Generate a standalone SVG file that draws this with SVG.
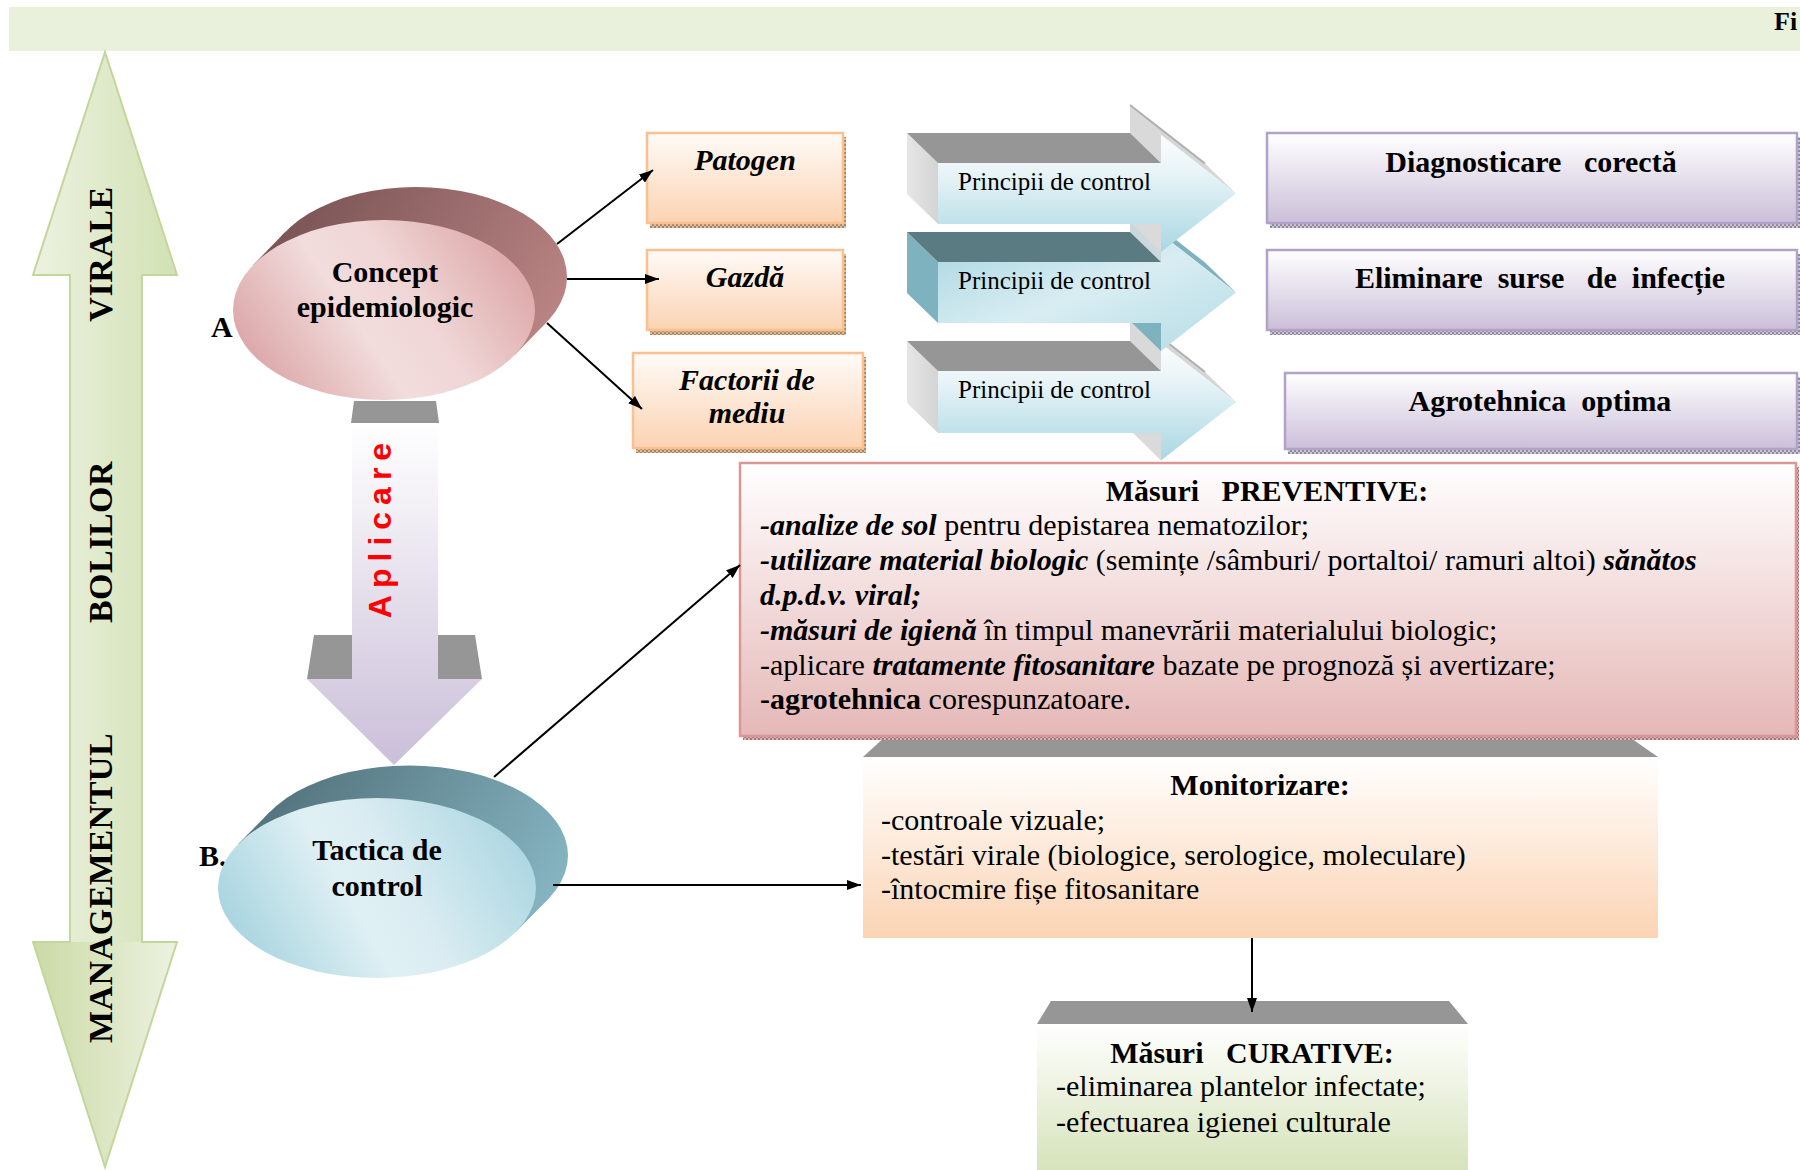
<svg xmlns="http://www.w3.org/2000/svg" width="1800" height="1170" viewBox="0 0 1800 1170">
<defs>
<style>
.serif{font-family:"Liberation Serif","Times New Roman",serif;fill:#000}
.b{font-weight:bold}
.bi{font-weight:bold;font-style:italic}
.f30{font-size:30px}
.pre{white-space:pre}
.conn{stroke:#000;stroke-width:2;fill:none;marker-end:url(#ah)}
.gray{fill:#969696}
.peach{fill:url(#gPeach);stroke:#fac090;stroke-width:2.5}
.purple{fill:url(#gPurple);stroke:#b3a2c7;stroke-width:2.5}
</style>
<marker id="ah" viewBox="0 0 14 10" refX="14" refY="5" markerWidth="14" markerHeight="10" markerUnits="userSpaceOnUse" orient="auto"><path d="M0,0L14,5L0,10z" fill="#000"/></marker>
<pattern id="hO" width="4" height="4" patternUnits="userSpaceOnUse"><rect width="4" height="4" fill="#dcbc9c"/><rect width="2" height="2" fill="#a98462"/><rect x="2" y="2" width="2" height="2" fill="#a98462"/></pattern>
<pattern id="hP" width="4" height="4" patternUnits="userSpaceOnUse"><rect width="4" height="4" fill="#cfc7da"/><rect width="2" height="2" fill="#8f8799"/><rect x="2" y="2" width="2" height="2" fill="#8f8799"/></pattern>
<pattern id="hR" width="4" height="4" patternUnits="userSpaceOnUse"><rect width="4" height="4" fill="#d9b3b3"/><rect width="2" height="2" fill="#9e7a7a"/><rect x="2" y="2" width="2" height="2" fill="#9e7a7a"/></pattern>
<linearGradient id="gBig1" x1="0" y1="0" x2="1" y2="0"><stop offset="0" stop-color="#ecf2e0"/><stop offset="1" stop-color="#d2e1b4"/></linearGradient>
<linearGradient id="gBig2" x1="0" y1="0" x2="1" y2="0"><stop offset="0" stop-color="#cbdaa6"/><stop offset="1" stop-color="#ecf2e0"/></linearGradient>
<linearGradient id="gPeach" x1="0" y1="0" x2="0" y2="1"><stop offset="0" stop-color="#fffbf8"/><stop offset="1" stop-color="#fbd3b2"/></linearGradient>
<linearGradient id="gPurple" x1="0" y1="0" x2="0" y2="1"><stop offset="0" stop-color="#ffffff"/><stop offset="1" stop-color="#cbbfd9"/></linearGradient>
<linearGradient id="gPink" x1="0" y1="0" x2="0" y2="1"><stop offset="0" stop-color="#ffffff"/><stop offset="1" stop-color="#e5b8b7"/></linearGradient>
<linearGradient id="gMon" x1="0" y1="0" x2="0" y2="1"><stop offset="0" stop-color="#ffffff"/><stop offset="1" stop-color="#fbd4b4"/></linearGradient>
<linearGradient id="gCur" x1="0" y1="0" x2="0" y2="1"><stop offset="0" stop-color="#ffffff"/><stop offset="1" stop-color="#d6e3bb"/></linearGradient>
<linearGradient id="gApl" gradientUnits="userSpaceOnUse" x1="0" y1="423" x2="0" y2="765"><stop offset="0" stop-color="#ffffff"/><stop offset="1" stop-color="#cbbfd9"/></linearGradient>
<linearGradient id="gABack" gradientUnits="userSpaceOnUse" x1="300" y1="190" x2="560" y2="360"><stop offset="0" stop-color="#7a5455"/><stop offset="1" stop-color="#c08888"/></linearGradient>
<linearGradient id="gAFront" gradientUnits="userSpaceOnUse" x1="510" y1="225" x2="260" y2="395"><stop offset="0" stop-color="#dba2a3"/><stop offset="0.4" stop-color="#f0d6d6"/><stop offset="0.6" stop-color="#f2dcdc"/><stop offset="1" stop-color="#d9a1a2"/></linearGradient>
<linearGradient id="gBBack" gradientUnits="userSpaceOnUse" x1="300" y1="770" x2="570" y2="940"><stop offset="0" stop-color="#557680"/><stop offset="1" stop-color="#8cbdca"/></linearGradient>
<linearGradient id="gBFront" gradientUnits="userSpaceOnUse" x1="520" y1="805" x2="240" y2="965"><stop offset="0" stop-color="#a7d4e0"/><stop offset="0.45" stop-color="#dbedf2"/><stop offset="0.6" stop-color="#dff0f4"/><stop offset="1" stop-color="#a4d2de"/></linearGradient>
<linearGradient id="gPr" x1="0" y1="0" x2="0" y2="1"><stop offset="0" stop-color="#fbfdfe"/><stop offset="0.3" stop-color="#eaf5f8"/><stop offset="1" stop-color="#a9d7e3"/></linearGradient>
<linearGradient id="gPr2" x1="0" y1="0" x2="1" y2="1"><stop offset="0" stop-color="#a9d6e2"/><stop offset="0.5" stop-color="#d8edf2"/><stop offset="1" stop-color="#b5dce6"/></linearGradient>
<linearGradient id="gSide" x1="0" y1="0" x2="1" y2="0"><stop offset="0" stop-color="#e6e6e6"/><stop offset="1" stop-color="#d4d4d4"/></linearGradient>
</defs>

<rect id="band" x="9" y="7" width="1791" height="44" fill="#e9f1dd"/>
<text class="serif b" x="1774" y="30" font-size="26">Fi</text>

<g id="management-arrow">
<polygon points="105,52 177,275 142,275 142,942 177,942 105,1167 33,942 70,942 70,275 33,275" fill="url(#gBig1)"/>
<polygon points="33,942 177,942 105,1167" fill="url(#gBig2)"/>
<polygon points="105,52 177,275 142,275 142,942 177,942 105,1167 33,942 70,942 70,275 33,275" fill="none" stroke="#c3d69b" stroke-width="2"/>
<text class="serif b" font-size="34" letter-spacing="0.5" text-anchor="middle" transform="translate(112,254) rotate(-90)">VIRALE</text>
<text class="serif b" font-size="34" letter-spacing="0.5" text-anchor="middle" transform="translate(112,542) rotate(-90)">BOLILOR</text>
<text class="serif b" font-size="34" letter-spacing="0.5" text-anchor="middle" transform="translate(112,888) rotate(-90)">MANAGEMENTUL</text>
</g>

<g id="aplicare-arrow">
<polygon class="gray" points="354,401 436,401 439,423 351,423"/>
<polygon class="gray" points="314,635 352,635 352,679 307,679"/>
<polygon class="gray" points="438,635 475,635 482,679 438,679"/>
<polygon points="352,423 438,423 438,679 482,679 394,765 307,679 352,679" fill="url(#gApl)"/>
<text font-family="'Liberation Sans',Arial,sans-serif" font-weight="bold" font-size="32" letter-spacing="7" fill="#ff0000" text-anchor="middle" transform="translate(391,527) rotate(-90)">Aplicare</text>
</g>

<g id="concept">
<text class="serif b f30" x="211" y="337">A</text>
<ellipse cx="416" cy="277" rx="151" ry="90" fill="url(#gABack)"/>
<polygon points="514.8,355 546.8,322 285.2,232 253.2,265" fill="url(#gABack)"/>
<ellipse cx="384" cy="310" rx="151" ry="90" fill="url(#gAFront)"/>
<text class="serif b f30" x="385" y="282" text-anchor="middle">Concept</text>
<text class="serif b f30" x="385" y="317" text-anchor="middle">epidemiologic</text>
</g>

<g id="tactica">
<text class="serif b f30" x="199" y="866">B.</text>
<ellipse cx="409" cy="855.5" rx="159" ry="90" fill="url(#gBBack)"/>
<polygon points="516,931.7 548,899.2 270,811.8 238,844.3" fill="url(#gBBack)"/>
<ellipse cx="377" cy="888" rx="159" ry="90" fill="url(#gBFront)"/>
<text class="serif b f30" x="377" y="860" text-anchor="middle">Tactica de</text>
<text class="serif b f30" x="377" y="896" text-anchor="middle">control</text>
</g>

<g id="patogen">
<rect x="650" y="137" width="196" height="91" fill="url(#hO)"/>
<rect class="peach" x="647" y="133" width="196" height="90"/>
<text class="serif bi f30" x="745" y="170" text-anchor="middle">Patogen</text>
</g>
<g id="gazda">
<rect x="650" y="254" width="196" height="81" fill="url(#hO)"/>
<rect class="peach" x="647" y="250" width="196" height="80"/>
<text class="serif bi f30" x="745" y="287" text-anchor="middle">Gazdă</text>
</g>
<g id="factorii">
<rect x="636" y="357" width="230" height="96" fill="url(#hO)"/>
<rect class="peach" x="633" y="353" width="230" height="95"/>
<text class="serif bi f30" x="747" y="390" text-anchor="middle">Factorii de</text>
<text class="serif bi f30" x="747" y="423" text-anchor="middle">mediu</text>
</g>

<g id="principii-3">
<polygon points="1130,313 1161,343.5 1161,371 1130,341" fill="#d9d9d9"/>
<polygon points="1130,403 1161,433 1161,460.5 1130,430" fill="#dadada"/>
<polygon points="907,341 938,371 938,433 907,403" fill="url(#gSide)"/>
<polygon points="907,341 1130,341 1161,371 938,371" fill="#969696"/>
<polygon points="1130,313 1205,372 1236,402 1161,343.5" fill="#d6d6d6"/>
<line x1="1130" y1="313" x2="1205" y2="372" stroke="#b0b0b0" stroke-width="2"/>
<polygon points="938,371 1161,371 1161,343.5 1236,402 1161,460.5 1161,433 938,433" fill="url(#gPr)"/>
<text class="serif" x="958" y="398" font-size="25">Principii de control</text>
</g>
<g id="principii-2">
<polygon points="1130,204 1161,234 1161,262 1130,232" fill="#c9d9dd"/>
<polygon points="1130,293 1161,323 1161,351 1130,321" fill="#7fb2bf"/>
<polygon points="907,232 938,262 938,323 907,293" fill="#7fb2bf"/>
<polygon points="907,232 1130,232 1161,262 938,262" fill="#5b7b83"/>
<polygon points="1130,204 1205,262.5 1236,292.5 1161,234" fill="#7fb2bf"/>
<polygon points="938,262 1161,262 1161,234 1236,292.5 1161,351 1161,323 938,323" fill="url(#gPr2)"/>
<text class="serif" x="958" y="289" font-size="25">Principii de control</text>
</g>
<g id="principii-1">
<polygon points="1130,105 1161,135 1161,163 1130,133" fill="#d9d9d9"/>
<polygon points="1130,194 1161,224 1161,252 1130,222" fill="#dadada"/>
<polygon points="907,133 938,163 938,224 907,194" fill="url(#gSide)"/>
<polygon points="907,133 1130,133 1161,163 938,163" fill="#969696"/>
<polygon points="1130,105 1205,163.5 1236,193.5 1161,135" fill="#d6d6d6"/>
<line x1="1130" y1="105" x2="1205" y2="163.5" stroke="#b0b0b0" stroke-width="2"/>
<polygon points="938,163 1161,163 1161,135 1236,193.5 1161,252 1161,224 938,224" fill="url(#gPr)"/>
<text class="serif" x="958" y="190" font-size="25">Principii de control</text>
</g>

<g id="diagnosticare">
<rect x="1270" y="137" width="530" height="91" fill="url(#hP)"/>
<rect class="purple" x="1267" y="133" width="530" height="90"/>
<text class="serif b f30 pre" x="1531" y="172" text-anchor="middle" xml:space="preserve">Diagnosticare   corectă</text>
</g>
<g id="eliminare">
<rect x="1270" y="254" width="530" height="81" fill="url(#hP)"/>
<rect class="purple" x="1267" y="250" width="530" height="80"/>
<text class="serif b f30 pre" x="1540" y="288" text-anchor="middle" xml:space="preserve">Eliminare  surse   de  infecție</text>
</g>
<g id="agrotehnica">
<rect x="1288" y="377" width="512" height="77" fill="url(#hP)"/>
<rect class="purple" x="1285" y="373" width="512" height="76"/>
<text class="serif b f30 pre" x="1540" y="411" text-anchor="middle" xml:space="preserve">Agrotehnica  optima</text>
</g>

<g id="monitorizare">
<polygon class="gray" points="888,734 1625,734 1658,757 863,757"/>
<rect x="863" y="757" width="795" height="181" fill="url(#gMon)"/>
<text class="serif b f30" x="1260" y="795" text-anchor="middle">Monitorizare:</text>
<text class="serif f30" x="881" y="830">-controale vizuale;</text>
<text class="serif f30" x="881" y="865">-testări virale (biologice, serologice, moleculare)</text>
<text class="serif f30" x="881" y="899">-întocmire fișe fitosanitare</text>
</g>

<g id="preventive">
<rect x="743" y="467" width="1056" height="273" fill="url(#hR)"/>
<rect x="740" y="463" width="1056" height="273" fill="url(#gPink)" stroke="#d99694" stroke-width="2.5"/>
<text class="serif b f30 pre" x="1267" y="501" text-anchor="middle" xml:space="preserve">Măsuri   PREVENTIVE:</text>
<text class="serif f30" x="760" y="535"><tspan class="bi">-analize de sol</tspan> pentru depistarea nematozilor;</text>
<text class="serif f30" x="760" y="570"><tspan class="bi">-utilizare material biologic</tspan> (semințe /sâmburi/ portaltoi/ ramuri altoi) <tspan class="bi">sănătos</tspan></text>
<text class="serif bi f30" x="760" y="605">d.p.d.v. viral;</text>
<text class="serif f30" x="760" y="640"><tspan class="bi">-măsuri de igienă</tspan> în timpul manevrării materialului biologic;</text>
<text class="serif f30" x="760" y="675">-aplicare <tspan class="bi">tratamente fitosanitare</tspan> bazate pe prognoză și avertizare;</text>
<text class="serif f30" x="760" y="709"><tspan class="b">-agrotehnica</tspan> corespunzatoare.</text>
</g>

<g id="curative">
<polygon class="gray" points="1051,1001 1449,1001 1468,1024 1037,1024"/>
<rect x="1037" y="1024" width="431" height="146" fill="url(#gCur)"/>
<text class="serif b f30 pre" x="1252" y="1063" text-anchor="middle" xml:space="preserve">Măsuri   CURATIVE:</text>
<text class="serif f30" x="1056" y="1096">-eliminarea plantelor infectate;</text>
<text class="serif f30" x="1056" y="1132">-efectuarea igienei culturale</text>
</g>

<g id="connectors">
<line class="conn" x1="557" y1="244" x2="653" y2="170"/>
<line class="conn" x1="567" y1="279" x2="659" y2="279"/>
<line class="conn" x1="547" y1="323" x2="642" y2="409"/>
<line class="conn" x1="494" y1="777" x2="740" y2="565"/>
<line class="conn" x1="553" y1="885" x2="861" y2="885"/>
<line class="conn" x1="1252" y1="938" x2="1252" y2="1012"/>
</g>
</svg>
